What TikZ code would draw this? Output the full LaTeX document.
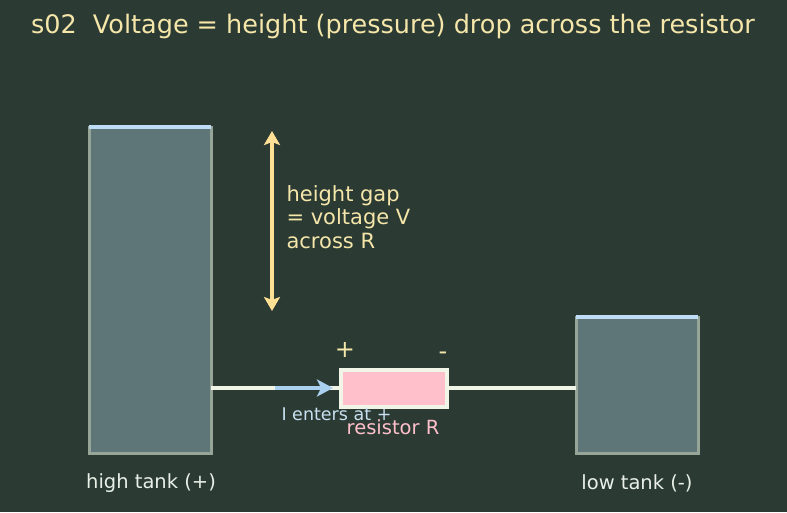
\documentclass[tikz,border=0pt]{standalone}
\usepackage{fontspec}
\setmainfont{DejaVu Sans}
\usetikzlibrary{positioning,arrows.meta}
\definecolor{bgcol}{RGB}{43,58,51}
\definecolor{tankfill}{RGB}{95,118,120}
\definecolor{tankedge}{RGB}{150,165,152}
\definecolor{waterline}{RGB}{190,220,245}
\definecolor{gold}{RGB}{255,225,150}
\definecolor{goldtext}{RGB}{245,230,170}
\definecolor{wirecol}{RGB}{240,245,232}
\definecolor{flowcol}{RGB}{170,208,240}
\definecolor{flowtext}{RGB}{200,224,240}
\definecolor{pinkfill}{RGB}{255,192,203}
\definecolor{labelcol}{RGB}{232,240,232}

\begin{document}
\begin{tikzpicture}[
    x=1pt, y=-1pt,
 tank/.style = {
        draw=tankedge, fill=tankfill, line width=3pt,
        minimum width=122pt, inner sep=0pt, outer sep=0pt},
 water/.style = {waterline, line width=4.5pt},
 wire/.style = {wirecol, line width=4pt},
 resbox/.style = {
        draw=wirecol, fill=pinkfill, line width=4pt,
        minimum width=106pt, minimum height=37pt, inner sep=0pt},
 tanklabel/.style = {labelcol, font=\fontsize{19.5}{23}\selectfont},
 sign/.style = {goldtext, font=\fontsize{24}{28}\selectfont},
 gap/.style = {gold, line width=4.5pt,
        {Stealth[length=14pt,width=16pt,inset=3pt]}-{Stealth[length=14pt,width=16pt,inset=3pt]}}
                    ]
% background
\fill[bgcol] (0,0) rectangle (787,512);
\useasboundingbox (0,0) rectangle (787,512);
% the title
\node (title) [goldtext, font=\fontsize{25.5}{30}\selectfont] at (393,26)
        {s02\ \ Voltage = height (pressure) drop across the resistor};
% the two tanks
\node (high) [tank, minimum height=326pt, anchor=north west] at (89,127) {};
\node (low)  [tank, minimum height=136pt, anchor=north west] at (576,317) {};
\draw[water] (high.north west) -- (high.north east);
\draw[water] (low.north west) -- (low.north east);
\node (highlbl) [tanklabel] at (151,483) {high tank (+)};
\node (lowlbl)  [tanklabel] at (637,483) {low tank (-)};
% the height gap
\coordinate (gtop) at (272,131);
\coordinate (gbot) at (272,311);
\draw[gap] (gtop) -- (gbot);
\node (gaptxt) [goldtext, font=\fontsize{21}{23.5}\selectfont, align=left,
        anchor=west] at (283,217) {height gap\\= voltage V\\across R};
% the resistor and wires
\node (res) [resbox] at (394,388) {};
\draw[wire] (high.east |- res.west) -- (res.west);
\draw[wire] (res.east) -- (low.west |- res.east);
\node (plus)  [sign] at (345,350) {+};
\node (minus) [sign] at (443,356) {-};
\coordinate (fstart) at (275,388);
\draw[flowcol, line width=4pt, -{Stealth[length=16pt,width=17pt,inset=4pt]}]
        (fstart) -- ([xshift=-6pt]res.west);
\node (flowtxt) [flowtext, font=\fontsize{17.5}{20}\selectfont, anchor=west] at (278,414) {I enters at +};
\node (reslbl)  [pinkfill, font=\fontsize{19.5}{22}\selectfont] at (393,427) {resistor R};
\end{tikzpicture}
\end{document}
